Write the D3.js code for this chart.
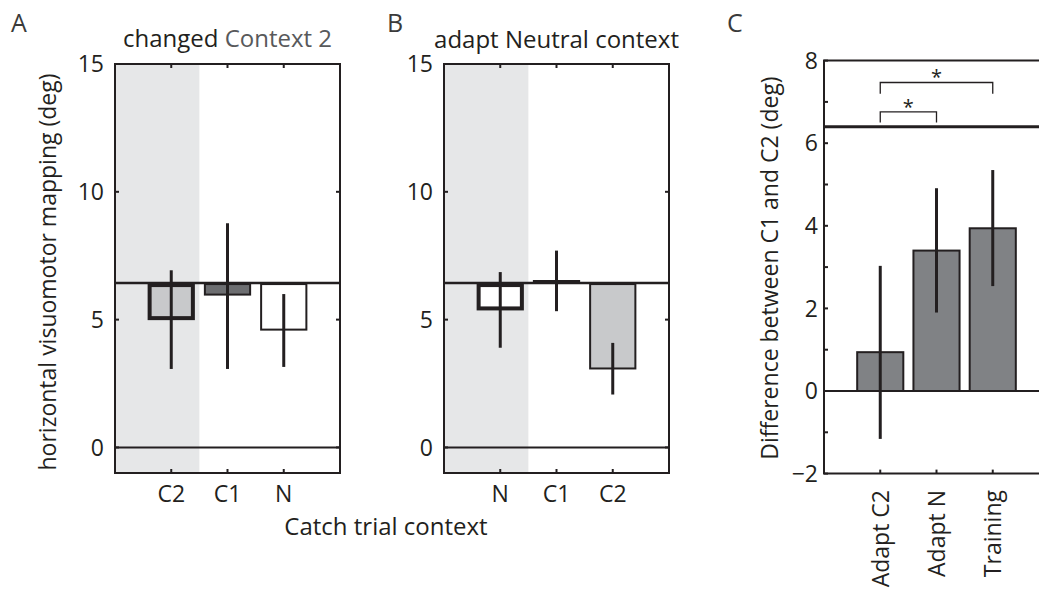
<!DOCTYPE html>
<html>
<head>
<meta charset="utf-8">
<script src="https://cdn.jsdelivr.net/npm/d3@7"></script>
<style>
  body { margin: 0; background: #fff; }
  text { font-family: "Open Sans", sans-serif; fill: #231f20; }
</style>
</head>
<body>
<div id="chart"></div>
<script>
// data
const catsA = ['C2', 'C1', 'N'];
const valsA = [4.98, 5.94, 4.57];
const errLoA = [3.07, 3.07, 3.15];
const errHiA = [6.93, 8.77, 6.0];
const fillsA = ['#c8c9cb', '#6d6e71', '#ffffff'];
const strokeWA = [4, 2, 2];

const catsB = ['N', 'C1', 'C2'];
const valsB = [5.36, 6.55, 3.05];
const errLoB = [3.9, 5.33, 2.07];
const errHiB = [6.86, 7.7, 4.09];
const fillsB = ['#ffffff', '#6d6e71', '#c8c9cb'];
const strokeWB = [4, 2, 2];

const baseline = 6.43; // training level, panels A and B
const yTicksAB = [0, 5, 10, 15];

const catsC = ['Adapt C2', 'Adapt N', 'Training'];
const valsC = [0.94, 3.4, 3.94];
const errLoC = [-1.16, 1.9, 2.54];
const errHiC = [3.03, 4.91, 5.35];
const lineC = 6.4;
const yTicksC = [-2, -1, 0, 1, 2, 3, 4, 5, 6, 7, 8];
// [from index, to index, leg bottom, bracket top]
const sigPairs = [[0, 1, 6.5, 6.76], [0, 2, 7.2, 7.47]];

const W = 1039, H = 595;
const tickFont = 23, labelFont = 23, titleFont = 24;
const svg = d3.select('#chart').append('svg')
  .attr('width', W).attr('height', H);

// drawBox()
// axes frame with inward ticks on every side (matlab style)
function drawBox(g, x, y, xt, yt, right) {
  const x0 = x.range()[0], x1 = right, y0 = y.range()[0], y1 = y.range()[1];
  g.append('rect').attr('x', x0).attr('y', y1).attr('width', x1 - x0).attr('height', y0 - y1)
    .attr('fill', 'none').attr('stroke', '#231f20').attr('stroke-width', 2);
  xt.forEach(function(v) {
    g.append('line').attr('x1', x(v)).attr('x2', x(v)).attr('y1', y0).attr('y2', y0 - 4)
      .attr('stroke', '#231f20').attr('stroke-width', 2);
    g.append('line').attr('x1', x(v)).attr('x2', x(v)).attr('y1', y1).attr('y2', y1 + 4)
      .attr('stroke', '#231f20').attr('stroke-width', 2);
  });
  yt.forEach(function(v) {
    g.append('line').attr('x1', x0).attr('x2', x0 + 4).attr('y1', y(v)).attr('y2', y(v))
      .attr('stroke', '#231f20').attr('stroke-width', 2);
    g.append('line').attr('x1', x1).attr('x2', x1 - 4).attr('y1', y(v)).attr('y2', y(v))
      .attr('stroke', '#231f20').attr('stroke-width', 2);
  });
}

// drawContextPanel()
// panels A and B: bars hanging from the training baseline
function drawContextPanel(left, cats, vals, lo, hi, fills, sw) {
  const g = svg.append('g');
  const x = d3.scaleLinear().domain([0, 4]).range([left, left + 225]);
  const y = d3.scaleLinear().domain([-1, 15]).range([473, 64]);
  const xs = cats.map(function(c, i) { return i + 1; });

  g.append('rect').attr('x', x(0)).attr('y', y(15)).attr('width', x(1.5) - x(0))
    .attr('height', y(-1) - y(15)).attr('fill', '#e6e7e8');

  g.append('line').attr('x1', x(0)).attr('x2', x(4)).attr('y1', y(0)).attr('y2', y(0))
    .attr('stroke', '#231f20').attr('stroke-width', 2);

  const bw = 0.84;
  g.selectAll('rect.bar').data(vals).enter().append('rect').attr('class', 'bar')
    .attr('x', function(d, i) { return x(xs[i] - bw / 2) + sw[i] / 2; })
    .attr('width', function(d, i) { return x(bw) - x(0) - sw[i]; })
    .attr('y', function(d, i) { return Math.min(y(d), y(baseline)) + sw[i] / 2; })
    .attr('height', function(d, i) { return Math.max(Math.abs(y(d) - y(baseline)) - sw[i], 1); })
    .attr('fill', function(d, i) { return fills[i]; })
    .attr('stroke', '#231f20')
    .attr('stroke-width', function(d, i) { return sw[i]; });

  g.append('line').attr('x1', x(0)).attr('x2', x(4)).attr('y1', y(baseline)).attr('y2', y(baseline))
    .attr('stroke', '#231f20').attr('stroke-width', 2.5);

  g.selectAll('line.err').data(vals).enter().append('line').attr('class', 'err')
    .attr('x1', function(d, i) { return x(xs[i]); })
    .attr('x2', function(d, i) { return x(xs[i]); })
    .attr('y1', function(d, i) { return y(lo[i]); })
    .attr('y2', function(d, i) { return y(hi[i]); })
    .attr('stroke', '#231f20').attr('stroke-width', 3);

  drawBox(g, x, y, xs, [0, 5, 10], x(4));

  g.selectAll('text.yt').data(yTicksAB).enter().append('text').attr('class', 'yt')
    .attr('x', x(0) - 11).attr('y', function(d) { return y(d); })
    .attr('dy', '0.36em').attr('text-anchor', 'end').attr('font-size', tickFont)
    .text(function(d) { return d; });
  g.selectAll('text.xt').data(cats).enter().append('text').attr('class', 'xt')
    .attr('x', function(d, i) { return x(xs[i]); }).attr('y', 502)
    .attr('text-anchor', 'middle').attr('font-size', tickFont)
    .text(function(d) { return d; });
  return x;
}

const xA = drawContextPanel(115, catsA, valsA, errLoA, errHiA, fillsA, strokeWA);
const xB = drawContextPanel(444, catsB, valsB, errLoB, errHiB, fillsB, strokeWB);

// titles
const tA = svg.append('text').attr('x', xA(2)).attr('y', 47).attr('text-anchor', 'middle').attr('font-size', titleFont);
tA.append('tspan').text('changed ');
tA.append('tspan').style('fill', '#58595b').text('Context 2');
svg.append('text').attr('x', xB(2)).attr('y', 48).attr('text-anchor', 'middle').attr('font-size', titleFont)
  .text('adapt Neutral context');

svg.append('text').attr('transform', 'translate(56,272) rotate(-90)')
  .attr('text-anchor', 'middle').attr('font-size', labelFont)
  .text('horizontal visuomotor mapping (deg)');
svg.append('text').attr('x', 386).attr('y', 535).attr('text-anchor', 'middle').attr('font-size', titleFont)
  .text('Catch trial context');

// panel C: difference between contexts
const gC = svg.append('g');
const xC = d3.scaleLinear().domain([0, 4]).range([824, 1049]);
const yC = d3.scaleLinear().domain([-2, 8]).range([473.6, 60.6]);
const xsC = catsC.map(function(c, i) { return i + 1; });

gC.append('line').attr('x1', xC(0)).attr('x2', W).attr('y1', yC(0)).attr('y2', yC(0))
  .attr('stroke', '#231f20').attr('stroke-width', 2);
const bwC = 0.82;
gC.selectAll('rect.bar').data(valsC).enter().append('rect').attr('class', 'bar')
  .attr('x', function(d, i) { return xC(xsC[i] - bwC / 2); })
  .attr('width', xC(bwC) - xC(0))
  .attr('y', function(d) { return yC(d); })
  .attr('height', function(d) { return yC(0) - yC(d); })
  .attr('fill', '#808285').attr('stroke', '#231f20').attr('stroke-width', 2);
gC.selectAll('line.err').data(valsC).enter().append('line').attr('class', 'err')
  .attr('x1', function(d, i) { return xC(xsC[i]); })
  .attr('x2', function(d, i) { return xC(xsC[i]); })
  .attr('y1', function(d, i) { return yC(errLoC[i]); })
  .attr('y2', function(d, i) { return yC(errHiC[i]); })
  .attr('stroke', '#231f20').attr('stroke-width', 3);
gC.append('line').attr('x1', xC(0)).attr('x2', W).attr('y1', yC(lineC)).attr('y2', yC(lineC))
  .attr('stroke', '#231f20').attr('stroke-width', 3);

// frame: left, bottom, top
gC.append('path')
  .attr('d', 'M' + W + ',' + yC(8) + 'H' + xC(0) + 'V' + yC(-2) + 'H' + W)
  .attr('fill', 'none').attr('stroke', '#231f20').attr('stroke-width', 2);
yTicksC.forEach(function(v) {
  gC.append('line').attr('x1', xC(0)).attr('x2', xC(0) + 4).attr('y1', yC(v)).attr('y2', yC(v))
    .attr('stroke', '#231f20').attr('stroke-width', 2);
});
xsC.forEach(function(v) {
  gC.append('line').attr('x1', xC(v)).attr('x2', xC(v)).attr('y1', yC(-2)).attr('y2', yC(-2) - 4)
    .attr('stroke', '#231f20').attr('stroke-width', 2);
});
gC.selectAll('text.yt').data(yTicksC.filter(function(v) { return v % 2 === 0; })).enter()
  .append('text').attr('class', 'yt')
  .attr('x', xC(0) - 6).attr('y', function(d) { return yC(d); })
  .attr('dy', '0.36em').attr('text-anchor', 'end').attr('font-size', tickFont)
  .text(function(d) { return d < 0 ? '\u2212' + Math.abs(d) : d; });
gC.selectAll('text.xt').data(catsC).enter().append('text').attr('class', 'xt')
  .attr('transform', function(d, i) { return 'translate(' + xC(xsC[i]) + ',490) rotate(-90)'; })
  .attr('dy', '0.36em').attr('text-anchor', 'end').attr('font-size', tickFont)
  .text(function(d) { return d; });

// significance brackets
sigPairs.forEach(function(p) {
  gC.append('path')
    .attr('d', 'M' + xC(xsC[p[0]]) + ',' + yC(p[2]) + 'V' + yC(p[3]) + 'H' + xC(xsC[p[1]]) + 'V' + yC(p[2]))
    .attr('fill', 'none').attr('stroke', '#231f20').attr('stroke-width', 1.3);
  gC.append('text').attr('x', (xC(xsC[p[0]]) + xC(xsC[p[1]])) / 2).attr('y', yC(p[3]) + 2)
    .attr('text-anchor', 'middle').attr('font-size', 20).text('*');
});

svg.append('text').attr('transform', 'translate(778,268) rotate(-90)')
  .attr('text-anchor', 'middle').attr('font-size', labelFont)
  .text('Difference between C1 and C2 (deg)');

// panel letters
[['A', 11], ['B', 387], ['C', 727]].forEach(function(l) {
  svg.append('text').attr('x', l[1]).attr('y', 32).attr('font-size', 25)
    .style('fill', '#3a3a3a').text(l[0]);
});
</script>
</body>
</html>
